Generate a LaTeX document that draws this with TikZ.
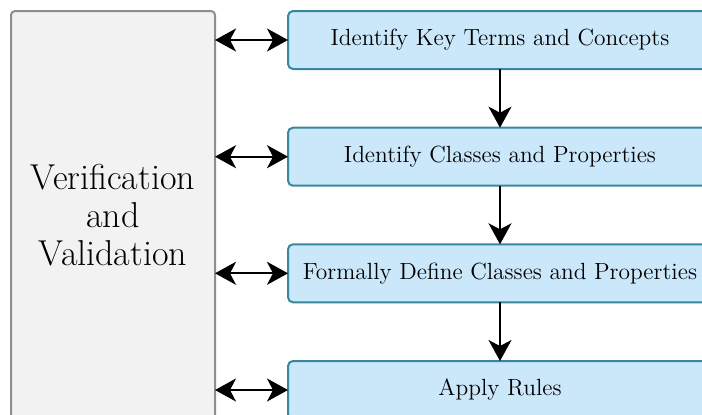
\documentclass[tikz,border=0pt]{standalone}
\usetikzlibrary{arrows.meta}
\definecolor{stepfill}{HTML}{CBE7FA}
\definecolor{stepdraw}{HTML}{3A879C}
\definecolor{vvfill}{HTML}{F2F2F2}
\definecolor{vvdraw}{HTML}{8E8E8E}
\begin{document}
\begin{tikzpicture}[x=0.5pt,y=-0.5pt,
  stepbox/.style={draw=stepdraw,fill=stepfill,line width=1pt,rounded corners=2.5pt,
    minimum width=212pt,minimum height=29pt,inner sep=0pt,outer sep=0pt,
    font=\fontsize{11.7}{13}\selectfont},
  vvbox/.style={draw=vvdraw,fill=vvfill,line width=1pt,rounded corners=2pt,
    minimum width=102pt,minimum height=204pt,inner sep=0pt,outer sep=0pt,align=center,
    font=\fontsize{18}{19}\selectfont},
  tipA/.tip={Stealth[length=10.5pt,width=11.5pt,inset=3pt]},
  conn/.style={line width=1pt,tipA-tipA},
  flow/.style={line width=1pt,-tipA}]
\useasboundingbox (0,0) rectangle (702,414);
\clip (0,0) rectangle (702,414);
\node[vvbox] (vv) at (113,215) {Verification\\and\\Validation};
\node[stepbox] (b1) at (500,40) {Identify Key Terms and Concepts};
\node[stepbox] (b2) at (500,156.7) {Identify Classes and Properties};
\node[stepbox] (b3) at (500,273.3) {Formally Define Classes and Properties};
\node[stepbox] (b4) at (500,390) {Apply Rules};
\draw[flow] (b1) -- (b2);
\draw[flow] (b2) -- (b3);
\draw[flow] (b3) -- (b4);
\draw[conn] (vv.east |- b1.west) -- (b1.west);
\draw[conn] (vv.east |- b2.west) -- (b2.west);
\draw[conn] (vv.east |- b3.west) -- (b3.west);
\draw[conn] (vv.east |- b4.west) -- (b4.west);
\end{tikzpicture}
\end{document}
